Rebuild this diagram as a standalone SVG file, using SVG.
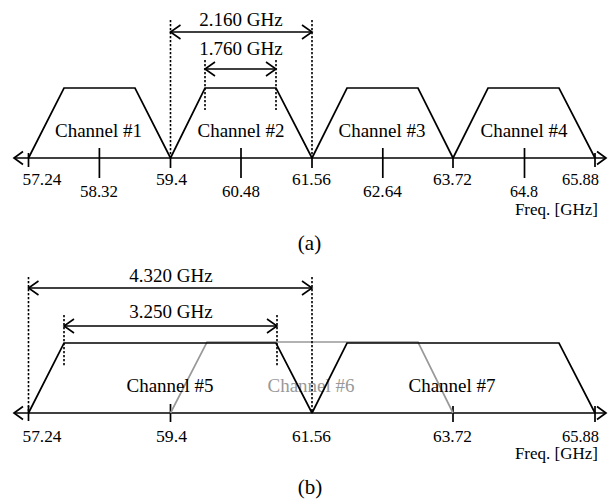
<svg xmlns="http://www.w3.org/2000/svg" width="608" height="499" viewBox="0 0 608 499">
<style>
text { font-family: "Liberation Serif", "Times New Roman", serif; fill: #000; }
.num { font-size: 16px; }
.ch { font-size: 19px; text-anchor: middle; }
.dim { font-size: 19px; text-anchor: middle; }
.frq { font-size: 17px; text-anchor: end; }
.cap { font-size: 21px; text-anchor: middle; }
.ln { fill: none; stroke: #000; stroke-width: 1.7; }
.gr { fill: none; stroke: #999; stroke-width: 1.7; }
.dot { fill: none; stroke: #000; stroke-width: 1.6; stroke-dasharray: 2.2 1.8; }
.ax { fill: none; stroke: #000; stroke-width: 1.7; marker-start: url(#ah); marker-end: url(#ah); }
.da { fill: none; stroke: #000; stroke-width: 1.6; marker-start: url(#dh); marker-end: url(#dh); }
</style>
<defs>
<marker id="ah" markerUnits="userSpaceOnUse" orient="auto-start-reverse" overflow="visible" markerWidth="1" markerHeight="1" refX="0" refY="0">
<path d="M-9,-6.5 L0,0 L-9,6.5" fill="none" stroke="#000" stroke-width="1.7"/>
</marker>
<marker id="dh" markerUnits="userSpaceOnUse" orient="auto-start-reverse" overflow="visible" markerWidth="1" markerHeight="1" refX="0" refY="0">
<path d="M-10,-7 L0,0 L-10,7" fill="none" stroke="#000" stroke-width="1.6"/>
</marker>
</defs>
<rect width="608" height="499" fill="#fff"/>

<!-- Panel (a) -->
<g id="axis-a">
<path class="ax" d="M14,158 H606"/>
<path class="ln" d="M28.5,153 V167 M99.4,148 V178 M170.5,158 V168 M241,148 V178 M312,158 V168 M382.8,148 V178 M453,158 V168 M524.5,148 V178 M595,153 V167"/>
<text class="num" x="22.5" y="185" textLength="39" lengthAdjust="spacingAndGlyphs">57.24</text>
<text class="num" x="80" y="197" textLength="38" lengthAdjust="spacingAndGlyphs">58.32</text>
<text class="num" x="156" y="185" textLength="31" lengthAdjust="spacingAndGlyphs">59.4</text>
<text class="num" x="222" y="197" textLength="38" lengthAdjust="spacingAndGlyphs">60.48</text>
<text class="num" x="292" y="185" textLength="39" lengthAdjust="spacingAndGlyphs">61.56</text>
<text class="num" x="363" y="197" textLength="39" lengthAdjust="spacingAndGlyphs">62.64</text>
<text class="num" x="433" y="185" textLength="39" lengthAdjust="spacingAndGlyphs">63.72</text>
<text class="num" x="510" y="197" textLength="28" lengthAdjust="spacingAndGlyphs">64.8</text>
<text class="num" x="562" y="185" textLength="37" lengthAdjust="spacingAndGlyphs">65.88</text>
<text class="frq" x="598" y="215">Freq. [GHz]</text>
</g>
<g id="ch1"><path class="ln" d="M28.5,158 L64,88 H135 L170.5,158"/><text class="ch" x="98.5" y="137">Channel #1</text></g>
<g id="ch2"><path class="ln" d="M170.5,158 L205,88 H276 L312,158"/><text class="ch" x="241" y="137">Channel #2</text></g>
<g id="ch3"><path class="ln" d="M312,158 L347,88 H418 L453,158"/><text class="ch" x="382" y="137">Channel #3</text></g>
<g id="ch4"><path class="ln" d="M453,158 L488,88 H559 L595,158"/><text class="ch" x="524" y="137">Channel #4</text></g>
<text class="cap" x="309.5" y="250">(a)</text>

<!-- Panel (b) -->
<g id="axis-b">
<path class="ax" d="M14,413 H606"/>
<path class="ln" d="M28.5,406 V421 M170.5,404 V422 M453,406 V422 M595,406 V422"/>
<text class="num" x="22.5" y="442" textLength="39" lengthAdjust="spacingAndGlyphs">57.24</text>
<text class="num" x="156" y="442" textLength="31" lengthAdjust="spacingAndGlyphs">59.4</text>
<text class="num" x="292" y="442" textLength="39" lengthAdjust="spacingAndGlyphs">61.56</text>
<text class="num" x="433" y="442" textLength="39" lengthAdjust="spacingAndGlyphs">63.72</text>
<text class="num" x="562" y="442" textLength="37" lengthAdjust="spacingAndGlyphs">65.88</text>
<text class="frq" x="598" y="459">Freq. [GHz]</text>
</g>
<g id="ch6"><path class="gr" d="M170.5,413 L207,342 H418 L453,413"/><text class="ch" x="311" y="392" style="fill:#999">Channel #6</text></g>
<g id="ch5"><path class="ln" d="M28.5,413 L64,343 H276 L312,413"/><text class="ch" x="170" y="392">Channel #5</text></g>
<g id="ch7"><path class="ln" d="M312,413 L347,343 H559 L595,413"/><text class="ch" x="452" y="392">Channel #7</text></g>
<text class="cap" x="310" y="494">(b)</text>

<!-- Dimension connectors -->
<g id="connectors">
<path class="dot" d="M170.5,20 V158 M312,20 V158"/>
<path class="da" d="M170.5,32 H312"/>
<text class="dim" x="241" y="26">2.160 GHz</text>
<path class="dot" d="M205,60 V110 M276,60 V110"/>
<path class="da" d="M205,69 H276"/>
<text class="dim" x="241" y="55">1.760 GHz</text>

<path class="dot" d="M28.5,277 V413 M312,277 V413"/>
<path class="da" d="M28.5,288 H312"/>
<text class="dim" x="171" y="282">4.320 GHz</text>
<path class="dot" d="M64,315 V367 M277,315 V367"/>
<path class="da" d="M64,326 H277"/>
<text class="dim" x="171" y="318">3.250 GHz</text>
</g>
</svg>
